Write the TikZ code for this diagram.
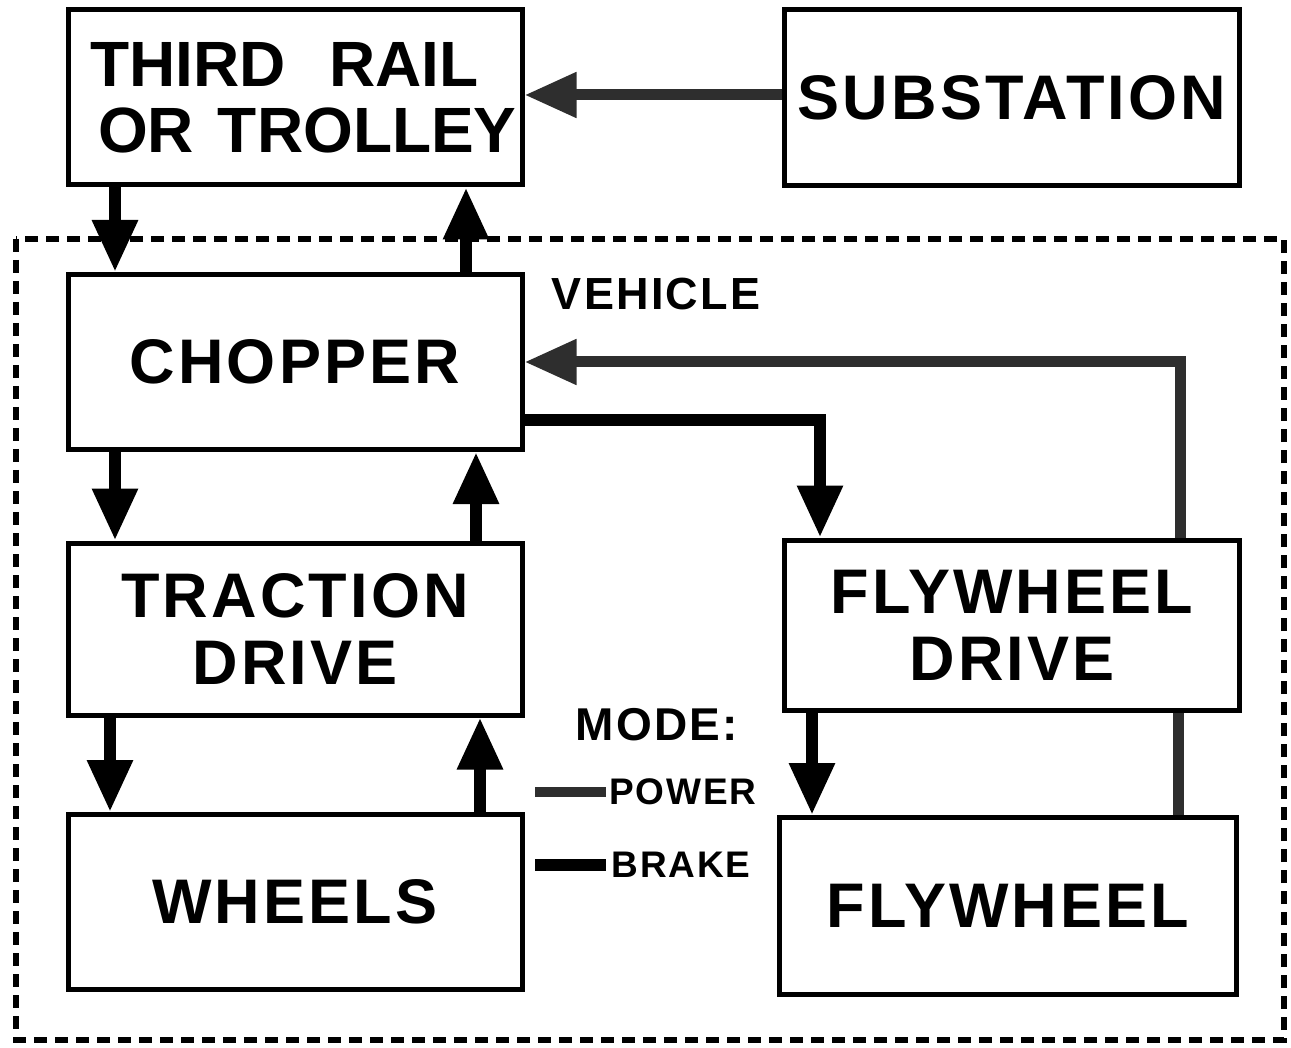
\documentclass[tikz,border=0pt]{standalone}
\usepackage{fontspec}
\setmainfont{Liberation Sans}
\newfontfamily\bigf{Liberation Sans}[LetterSpace=5]
\usetikzlibrary{arrows.meta,calc}
\begin{document}
\begin{tikzpicture}[x=1pt,y=-1pt,
  box/.style={draw=black,line width=5pt,rectangle,inner sep=0pt,
    minimum width=454pt,minimum height=175pt,align=center,
    font=\bigf\bfseries\fontsize{63}{67}\selectfont},
  lbl/.style={inner sep=0pt,font=\bigf\bfseries\fontsize{#1}{#1}\selectfont},
  brake/.style={draw=black,line width=12pt},
  power/.style={draw=black!82,line width=11pt},
  tip/.style={-{Triangle[width=43pt,length=52pt]}},
  vbox/.style={draw=black,line width=6pt,dash pattern=on 13pt off 8pt}]
\useasboundingbox (0,0) rectangle (1291,1048);
\draw[vbox] (16,239) rectangle (1284,1040);
\node[box,align=left,font=\rmfamily\bfseries\fontsize{64}{66}\selectfont] (rail) at (295,97.5)
  {\makebox[454pt][l]{\hspace*{22pt}THIRD\hspace{44pt}RAIL}\\\makebox[454pt][l]{\hspace*{30pt}OR\hspace{24pt}TROLLEY}};
\node[box,minimum width=455pt,minimum height=176pt] (sub) at (1012,98) {SUBSTATION};
\node[box] (chop) at (295,362) {CHOPPER};
\node[box,minimum height=172pt] (trac) at (295,629) {TRACTION\\DRIVE};
\node[box] (wheel) at (295,902) {WHEELS};
\node[box,minimum width=455pt,minimum height=170pt] (fwd) at (1012,625) {FLYWHEEL\\DRIVE};
\node[box,minimum width=457pt,minimum height=177pt] (fw) at (1008,906) {FLYWHEEL};
\node[lbl=45] (veh) at (656,294) {VEHICLE};
\node[lbl=46] (mode) at (657,725) {MODE:};
\node[lbl=37] (pow) at (683,792) {POWER};
\node[lbl=37] (brk) at (681,865) {BRAKE};
% legend
\coordinate (pl) at (535,792);
\coordinate (bl) at (535,865);
\draw[power,line width=10pt] (pl) -- ([xshift=-3pt]pow.west);
\draw[brake] (bl) -- ([xshift=-5pt]brk.west);
% arrows
\draw[brake,tip] ([xshift=-180pt]rail.south) -- ([xshift=-180pt]chop.north);
\draw[brake,tip] ([xshift=171pt]chop.north) -- ([xshift=171pt]rail.south);
\draw[brake,tip] ([xshift=-180pt]chop.south) -- ([xshift=-180pt]trac.north);
\draw[brake,tip] ([xshift=181pt]trac.north) -- ([xshift=181pt]chop.south);
\draw[brake,tip] ([xshift=-185pt]trac.south) -- ([xshift=-185pt]wheel.north);
\draw[brake,tip] ([xshift=185pt]wheel.north) -- ([xshift=185pt]trac.south);
\draw[power,tip] ([yshift=3pt]sub.west) -- ([yshift=3pt]sub.west -| rail.east);
\draw[brake,tip] ([yshift=-58pt]chop.east) -| ([xshift=-192pt]fwd.north);
\draw[power,tip] ([xshift=168pt]fwd.north) |- (chop.east);
\draw[brake,tip] ([xshift=-200pt]fwd.south) -- ([xshift=-200pt]fwd.south |- fw.north);
\draw[power] ([xshift=170pt]fw.north) -- ([xshift=170pt]fw.north |- fwd.south);
\end{tikzpicture}
\end{document}
